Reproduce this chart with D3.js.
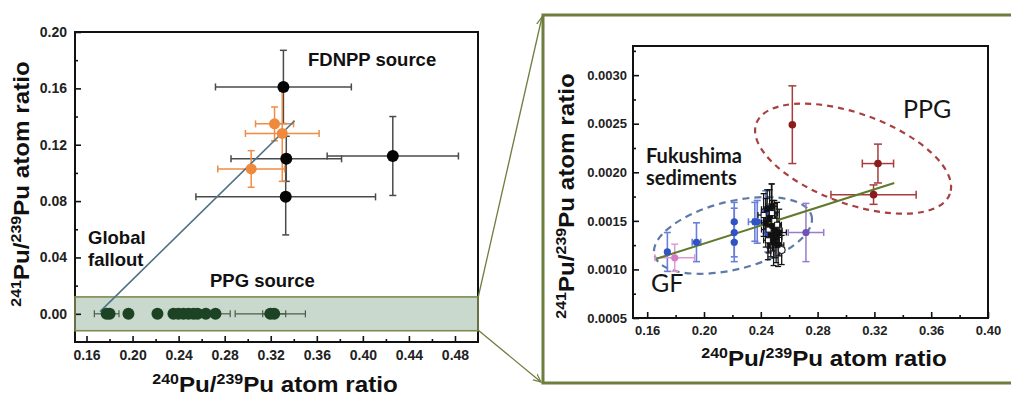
<!DOCTYPE html>
<html>
<head>
<meta charset="utf-8">
<script src="https://cdn.jsdelivr.net/npm/d3@7"></script>
<style>
  body { margin: 0; background: #fff; }
  svg { display: block; }
</style>
</head>
<body>
<svg id="chart" width="1011" height="397"></svg>
<script>
// ---------- data: [240Pu/239Pu, 241Pu/239Pu, x error, y error] ----------
// Left panel: 241Pu/239Pu vs 240Pu/239Pu, whole range
const fdnppBlack = [
  [0.331, 0.161, 0.059, 0.026],
  [0.3335, 0.110, 0.048, 0.016],
  [0.426, 0.112, 0.057, 0.028],
  [0.333, 0.083, 0.078, 0.027]
];
const fdnppOrange = [
  [0.3233, 0.1348, 0.0165, 0.012],
  [0.330, 0.128, 0.032, 0.034],
  [0.303, 0.1028, 0.029, 0.013]
];
// PPG / Fukushima sediment points that sit on ~0 at this scale
const ppgSourceX    = [0.1775, 0.1800, 0.1964, 0.2216, 0.2355, 0.2398, 0.2442, 0.2485, 0.2529, 0.2564, 0.2636, 0.2720, 0.3196, 0.3230];
const ppgSourceXErr = [0.0107, 0,      0,      0,      0,      0,      0,      0,      0,      0,      0,      0.0128, 0.0305, 0.0100];
const ppgBand = [-0.012, 0.012];
const mixingLineLeft = [[0.1717, 0.0016], [0.3407, 0.137]];

// Right panel: zoom on the PPG band
const ppgPoints = [
  [0.2622, 0.00249, 0, 0.0004],
  [0.3225, 0.00209, 0.011, 0.0002],
  [0.3194, 0.00177, 0.030, 0.0001]
];
const gfBlue = [
  [0.1742, 0.00118, 0, 0.0002],
  [0.1947, 0.00128, 0.003, 0.0002],
  [0.2213, 0.00149, 0, 0.0002],
  [0.2213, 0.00138, 0, 0.00025],
  [0.2213, 0.00128, 0, 0.0002],
  [0.2358, 0.00149, 0.0045, 0.0002],
  [0.2375, 0.00149, 0.003, 0.00022],
  [0.2435, 0.00159, 0.003, 0.00022],
  [0.2450, 0.00138, 0.003, 0.0002]
];
const gfPurple = [[0.2718, 0.00138, 0.0125, 0.0003]];
const gfPink = [[0.1794, 0.00112, 0.014, 0.00014]];
const sediments = [
  [0.2420, 0.00156, 0.004, 0.00022],
  [0.2435, 0.00148, 0.003, 0.00025],
  [0.2445, 0.00162, 0.004, 0.00020],
  [0.2455, 0.00141, 0.005, 0.00024],
  [0.2462, 0.00152, 0.004, 0.00030],
  [0.2470, 0.00135, 0.003, 0.00022],
  [0.2478, 0.00158, 0.004, 0.00030],
  [0.2482, 0.00145, 0.006, 0.00026],
  [0.2490, 0.00128, 0.004, 0.00024],
  [0.2495, 0.00150, 0.003, 0.00021],
  [0.2500, 0.00140, 0.005, 0.00028],
  [0.2508, 0.00133, 0.004, 0.00026],
  [0.2515, 0.00146, 0.003, 0.00023],
  [0.2522, 0.00125, 0.004, 0.00022],
  [0.2530, 0.00138, 0.005, 0.00024],
  [0.2450, 0.00130, 0.003, 0.00020],
  [0.2475, 0.00165, 0.004, 0.00023]
];
const sedimentOpen = [[0.2547, 0.00120, 0.002, 0.00015]];
const fitLineRight = [[0.1665, 0.00111], [0.334, 0.00189]];
const ppgEllipseCenter = [0.305, 0.00214];
const gfEllipseCenter = [0.2204, 0.00135];

// ticks
const leftXTicks  = [0.16, 0.20, 0.24, 0.28, 0.32, 0.36, 0.40, 0.44, 0.48];
const leftXMinor  = [0.18, 0.22, 0.26, 0.30, 0.34, 0.38, 0.42, 0.46];
const leftYTicks  = [0.00, 0.04, 0.08, 0.12, 0.16, 0.20];
const leftYMinor  = [0.02, 0.06, 0.10, 0.14, 0.18];
const rightXTicks = [0.16, 0.20, 0.24, 0.28, 0.32, 0.36, 0.40];
const rightXMinor = [0.18, 0.22, 0.26, 0.30, 0.34, 0.38];
const rightYTicks = [0.0005, 0.0010, 0.0015, 0.0020, 0.0025, 0.0030];
const rightYMinor = [0.00075, 0.00125, 0.00175, 0.00225, 0.00275, 0.00325];

// ---------- layout ----------
const svg = d3.select("#chart");
const xL = d3.scaleLinear().domain([0.15, 0.50]).range([75, 478]);
const yL = d3.scaleLinear().domain([-0.02, 0.20]).range([342, 32]);
const xR = d3.scaleLinear().domain([0.15, 0.40]).range([633, 988]);
const yR = d3.scaleLinear().domain([0.0005, 0.0033]).range([318, 46]);

const ARIAL = "'Liberation Sans', Arial, sans-serif";
const CALIBRI = "Lato, 'Open Sans', sans-serif";
const OLIVE = "#6f7d3f";

// arrowhead for the zoom connectors
svg.append("defs").append("marker")
  .attr("id", "chev").attr("viewBox", "0 0 10 10")
  .attr("refX", 9).attr("refY", 5)
  .attr("markerWidth", 9).attr("markerHeight", 9)
  .attr("orient", "auto").attr("markerUnits", "userSpaceOnUse")
  .append("path").attr("d", "M0,1 L9,5 L0,9")
  .attr("fill", "none").attr("stroke", OLIVE).attr("stroke-width", 1.3);

// ---------- helpers ----------
function drawAxes(g, xs, ys, xt, xm, yt, ym, xfmt, yfmt, fs, xpad, ypad) {
  const ax = g.append("g").attr("transform", `translate(0,${ys.range()[0]})`)
    .call(d3.axisBottom(xs).tickValues(xt).tickSize(-6).tickSizeOuter(0).tickPadding(xpad).tickFormat(d3.format(xfmt)));
  ax.append("g").call(d3.axisBottom(xs).tickValues(xm).tickSize(-3).tickFormat(""));
  const ay = g.append("g").attr("transform", `translate(${xs.range()[0]},0)`)
    .call(d3.axisLeft(ys).tickValues(yt).tickSize(-6).tickSizeOuter(0).tickPadding(ypad).tickFormat(d3.format(yfmt)));
  ay.append("g").call(d3.axisLeft(ys).tickValues(ym).tickSize(-3).tickFormat(""));
  [ax, ay].forEach(a => {
    a.selectAll(".domain").remove();
    a.selectAll("line").attr("stroke", "#111").attr("stroke-width", 1.6);
    a.selectAll("text").attr("font-family", ARIAL).attr("font-weight", "bold")
      .attr("font-size", fs).attr("fill", "#222");
  });
  // frame
  g.append("rect")
    .attr("x", xs.range()[0]).attr("y", ys.range()[1])
    .attr("width", xs.range()[1] - xs.range()[0]).attr("height", ys.range()[0] - ys.range()[1])
    .attr("fill", "none").attr("stroke", "#111").attr("stroke-width", 2);
}

function errorBars(g, data, xs, ys, color, cap, sw) {
  const gg = g.append("g").attr("stroke", color).attr("stroke-width", sw).attr("fill", "none");
  data.forEach(([x, y, xe, ye]) => {
    if (xe) {
      gg.append("line").attr("x1", xs(x - xe)).attr("x2", xs(x + xe)).attr("y1", ys(y)).attr("y2", ys(y));
      [x - xe, x + xe].forEach(v => gg.append("line")
        .attr("x1", xs(v)).attr("x2", xs(v)).attr("y1", ys(y) - cap).attr("y2", ys(y) + cap));
    }
    if (ye) {
      gg.append("line").attr("x1", xs(x)).attr("x2", xs(x)).attr("y1", ys(y - ye)).attr("y2", ys(y + ye));
      [y - ye, y + ye].forEach(v => gg.append("line")
        .attr("x1", xs(x) - cap).attr("x2", xs(x) + cap).attr("y1", ys(v)).attr("y2", ys(v)));
    }
  });
}

function dots(g, data, xs, ys, r, fill, stroke) {
  g.append("g").selectAll("circle").data(data).join("circle")
    .attr("cx", d => xs(d[0])).attr("cy", d => ys(d[1])).attr("r", r)
    .attr("fill", fill).attr("stroke", stroke || "none");
}

function ratioTitle(sel, size, top, bottom) {
  const sup = size * 0.66, up = size * 0.36;
  sel.attr("font-family", ARIAL).attr("font-weight", "bold").attr("fill", "#111");
  sel.append("tspan").attr("font-size", sup).attr("dy", -up).text(top);
  sel.append("tspan").attr("font-size", size).attr("dy", up).text("Pu/");
  sel.append("tspan").attr("font-size", sup).attr("dy", -up).text(bottom);
  sel.append("tspan").attr("font-size", size).attr("dy", up).text("Pu atom ratio");
}

// ---------- left panel ----------
const left = svg.append("g");
left.append("rect")
  .attr("x", xL(0.15)).attr("y", yL(ppgBand[1]))
  .attr("width", xL(0.50) - xL(0.15)).attr("height", yL(ppgBand[0]) - yL(ppgBand[1]))
  .attr("fill", "#cad9cd");
drawAxes(left, xL, yL, leftXTicks, leftXMinor, leftYTicks, leftYMinor, ".2f", ".2f", 14, 8, 8);
left.append("rect")
  .attr("x", xL(0.15)).attr("y", yL(ppgBand[1]))
  .attr("width", xL(0.50) - xL(0.15)).attr("height", yL(ppgBand[0]) - yL(ppgBand[1]))
  .attr("fill", "none").attr("stroke", "#7d8c52").attr("stroke-width", 1.6);

errorBars(left, fdnppBlack, xL, yL, "#4a4a4a", 3.5, 1.5);
errorBars(left, fdnppOrange, xL, yL, "#ef8c45", 3.5, 1.5);
const ppgSource = ppgSourceX.map((x, i) => [x, 0, ppgSourceXErr[i], 0]);
errorBars(left, ppgSource, xL, yL, "#4b5e45", 3.5, 1.2);
left.append("line")
  .attr("x1", xL(mixingLineLeft[0][0])).attr("y1", yL(mixingLineLeft[0][1]))
  .attr("x2", xL(mixingLineLeft[1][0])).attr("y2", yL(mixingLineLeft[1][1]))
  .attr("stroke", "#4e7286").attr("stroke-width", 1.6);
dots(left, ppgSource, xL, yL, 6, "#1c4424");
dots(left, fdnppBlack, xL, yL, 6, "#050505");
dots(left, fdnppOrange, xL, yL, 5.5, "#ef8a3c");

const txtL = (t, x, y) => left.append("text").attr("x", x).attr("y", y).text(t)
  .attr("font-family", ARIAL).attr("font-weight", "bold").attr("font-size", 18.5).attr("fill", "#111");
txtL("FDNPP source", 308, 66);
txtL("Global", 88, 244);
txtL("fallout", 88, 266);
txtL("PPG source", 210, 287);

ratioTitle(left.append("text").attr("text-anchor", "middle")
  .attr("transform", "translate(275,392) scale(1.1,1)"), 22, "240", "239");
ratioTitle(left.append("text").attr("text-anchor", "middle")
  .attr("transform", "translate(29,184) rotate(-90) scale(1.1,1)"), 22, "241", "239");

// ---------- zoom connectors and frame ----------
svg.append("path")
  .attr("d", "M1013,15 H543 V383 H1013")
  .attr("fill", "none").attr("stroke", OLIVE).attr("stroke-width", 3);
svg.append("line").attr("x1", 478).attr("y1", 298).attr("x2", 542).attr("y2", 17)
  .attr("stroke", OLIVE).attr("stroke-width", 1.3).attr("marker-end", "url(#chev)");
svg.append("line").attr("x1", 478).attr("y1", 330).attr("x2", 541).attr("y2", 382)
  .attr("stroke", OLIVE).attr("stroke-width", 1.3).attr("marker-end", "url(#chev)");

// ---------- right panel ----------
const right = svg.append("g");
drawAxes(right, xR, yR, rightXTicks, rightXMinor, rightYTicks, rightYMinor, ".2f", ".4f", 13, 8, 6);

// group ellipses
right.append("ellipse")
  .attr("transform", `translate(${xR(ppgEllipseCenter[0])},${yR(ppgEllipseCenter[1])}) rotate(20)`)
  .attr("rx", 103).attr("ry", 45)
  .attr("fill", "none").attr("stroke", "#a8403f").attr("stroke-width", 2.2).attr("stroke-dasharray", "6,5");
right.append("ellipse")
  .attr("transform", `translate(${xR(gfEllipseCenter[0])},${yR(gfEllipseCenter[1])}) rotate(-14)`)
  .attr("rx", 81).attr("ry", 34)
  .attr("fill", "none").attr("stroke", "#5e7aa6").attr("stroke-width", 2.2).attr("stroke-dasharray", "7,5");

errorBars(right, gfBlue, xR, yR, "#6a7fd8", 3.5, 1.6);
errorBars(right, gfPurple, xR, yR, "#9a7cc8", 3.5, 1.5);
errorBars(right, gfPink, xR, yR, "#dd9ad4", 3.5, 1.5);
errorBars(right, sediments, xR, yR, "#151515", 3, 1.3);
errorBars(right, sedimentOpen, xR, yR, "#151515", 3, 1.3);
errorBars(right, ppgPoints, xR, yR, "#a83c3c", 4, 1.5);

right.append("line")
  .attr("x1", xR(fitLineRight[0][0])).attr("y1", yR(fitLineRight[0][1]))
  .attr("x2", xR(fitLineRight[1][0])).attr("y2", yR(fitLineRight[1][1]))
  .attr("stroke", "#5f7a2c").attr("stroke-width", 2);

dots(right, gfBlue, xR, yR, 3.6, "#2f52c4");
dots(right, gfPurple, xR, yR, 3.6, "#6d53b3");
dots(right, gfPink, xR, yR, 3.6, "#d47cc6");
right.append("g").selectAll("rect").data(sediments).join("rect")
  .attr("x", d => xR(d[0]) - 2.5).attr("y", d => yR(d[1]) - 2.5)
  .attr("width", 5).attr("height", 5)
  .attr("fill", (d, i) => i % 3 === 0 ? "#fff" : "#111").attr("stroke", "#111").attr("stroke-width", 1);
dots(right, sedimentOpen, xR, yR, 3.5, "#fff", "#111");
dots(right, ppgPoints, xR, yR, 3.8, "#8b1c1c");

const txtR = (t, x, y, size, weight) => right.append("text").attr("x", x).attr("y", y).text(t)
  .attr("font-family", CALIBRI).attr("font-weight", weight).attr("font-size", size).attr("fill", "#151515");
txtR("Fukushima", 646, 163, 20, "bold");
txtR("sediments", 646, 185, 20, "bold");
txtR("PPG", 903, 118, 25, "normal");
txtR("GF", 651, 292, 25, "normal");

ratioTitle(right.append("text").attr("text-anchor", "middle")
  .attr("transform", "translate(824,366) scale(1.1,1)"), 22, "240", "239");
ratioTitle(right.append("text").attr("text-anchor", "middle")
  .attr("transform", "translate(574,196) rotate(-90) scale(1.1,1)"), 22, "241", "239");
</script>
</body>
</html>
